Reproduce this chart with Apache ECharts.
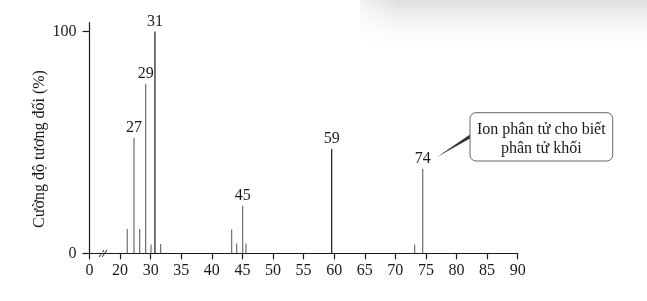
<!DOCTYPE html>
<html><head><meta charset="utf-8">
<script src="https://cdn.jsdelivr.net/npm/echarts@6/dist/echarts.min.js"></script>
<style>html,body{margin:0;padding:0;background:#fff}#c{width:647px;height:301px}</style>
</head><body><div id="c"></div>
<script>
// Peak positions as read on the drawn axis, and relative intensities (%)
const peakPos   = [26.17, 27.27, 28.2, 29.18, 30.05, 30.7, 31.63, 43.24, 44.06, 45.04, 45.58, 59.59, 73.16, 74.47];
const peakInt   = [11, 52, 11, 76.5, 4, 100, 4.2, 10.7, 4.4, 21.4, 4.4, 47, 4, 38];
const peakLabel = ['', '27', '', '29', '', '31', '', '', '', '45', '', '59', '', '74'];
const darkPeaks = ['31', '59'];
// x tick labels (axis is broken between 0 and 20)
const xTickLabels = ['0', '20', '30', '35', '40', '45', '50', '55', '60', '65', '70', '75', '80', '85', '90'];
const yTicks = [0, 100];
const yName = 'Cường độ tương đối (%)';
const calloutLines = ['Ion phân tử cho biết', 'phân tử khối'];

const FONT = '"Liberation Serif", "DejaVu Serif", serif';
const chart = echarts.init(document.getElementById('c'), null, {renderer: 'canvas'});

const data = peakPos.map((x, i) => ({
  value: [x, peakInt[i]],
  label: {show: peakLabel[i] !== '', formatter: peakLabel[i]},
  itemStyle: {color: darkPeaks.includes(peakLabel[i]) ? '#1a1a1a' : '#6e6e6e'}
}));

chart.setOption({
  animation: false,
  backgroundColor: '#fff',
  grid: {left: 89.5, right: 129.3, top: 22.7, bottom: 47.7, containLabel: false},
  xAxis: {
    type: 'value', min: 20, max: 90, interval: 5,
    axisLine: {show: true, lineStyle: {color: '#1a1a1a', width: 1.2}},
    axisTick: {show: true, inside: false, length: 6, lineStyle: {color: '#1a1a1a', width: 1.2}},
    axisLabel: {
      margin: 9, color: '#1a1a1a', fontFamily: FONT, fontSize: 16,
      formatter: (v, i) => xTickLabels[i]
    },
    splitLine: {show: false}
  },
  yAxis: {
    type: 'value', min: 0, max: 104,
    axisLine: {show: true, lineStyle: {color: '#1a1a1a', width: 1.2}},
    axisTick: {show: true, length: 7, customValues: yTicks, lineStyle: {color: '#1a1a1a', width: 1.2}},
    axisLabel: {customValues: yTicks, margin: 13, color: '#1a1a1a', fontFamily: FONT, fontSize: 16},
    splitLine: {show: false}
  },
  series: [{
    type: 'bar', barWidth: 1.2, data: data,
    label: {position: 'top', distance: 2, color: '#1a1a1a', fontFamily: FONT, fontSize: 16}
  }],
  graphic: [
    {type: 'rect', z: -1, shape: {x: 360, y: 0, width: 287, height: 52},
     style: {fill: new echarts.graphic.LinearGradient(0, 0, 0, 1, [
       {offset: 0, color: 'rgba(215,215,215,0.85)'}, {offset: 1, color: 'rgba(255,255,255,0)'}])}},
    {type: 'rect', z: -1, shape: {x: 340, y: 0, width: 60, height: 52},
     style: {fill: new echarts.graphic.LinearGradient(0, 0, 1, 0, [
       {offset: 0, color: 'rgba(255,255,255,1)'}, {offset: 1, color: 'rgba(255,255,255,0)'}])}},
    // y axis title
    {type: 'text', x: 40, y: 149, rotation: Math.PI / 2,
     style: {text: yName, font: '16px ' + FONT, fill: '#1a1a1a', textAlign: 'center', textVerticalAlign: 'middle'}},
    // axis break marks
    {type: 'line', shape: {x1: 99, y1: 257, x2: 104, y2: 250}, style: {stroke: '#1a1a1a', lineWidth: 1}},
    {type: 'line', shape: {x1: 102, y1: 257, x2: 107, y2: 250}, style: {stroke: '#1a1a1a', lineWidth: 1}},
    {type: 'rect', z: 0, shape: {x: 100.5, y: 252.3, width: 3, height: 2}, style: {fill: '#fff'}},
    // callout pointer
    {type: 'polygon', shape: {points: [[437, 157], [470, 134.5], [470, 138.5]]},
     style: {fill: '#333'}},
    // callout box
    {type: 'rect', shape: {x: 470, y: 112.7, width: 142.7, height: 48.3, r: 6},
     style: {fill: '#fff', stroke: '#666', lineWidth: 1}},
    {type: 'text', style: {x: 541.3, y: 129.5, text: calloutLines[0], font: '16px ' + FONT,
      fill: '#1a1a1a', textAlign: 'center', textVerticalAlign: 'middle'}},
    {type: 'text', style: {x: 541.3, y: 149, text: calloutLines[1], font: '16px ' + FONT,
      fill: '#1a1a1a', textAlign: 'center', textVerticalAlign: 'middle'}}
  ]
});
</script></body></html>
